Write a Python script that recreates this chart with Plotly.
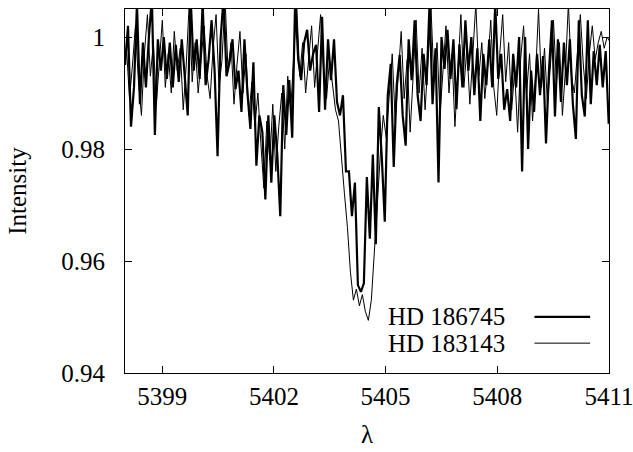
import numpy as np
import plotly.graph_objects as go

# Wavelength grid of the spectra (Angstrom)
LAMBDA_START = 5398.0
LAMBDA_STEP = 0.0802
THIN_OFFSET = 0.04

# HD 186745 normalised intensity
hd186745 = [
    0.995, 1.002, 0.984, 0.991, 1.006, 0.988, 0.999, 0.991, 1.000, 1.007,
    0.9825, 0.9996, 0.994, 1.000, 0.9925, 0.999, 0.991, 0.9986, 0.992, 0.9996,
    0.993, 0.986, 1.007, 0.994, 0.9996, 0.9925, 1.006, 0.9914, 0.996, 1.003,
    0.994, 0.9787, 0.9996, 1.007, 0.993, 0.9955, 0.9996, 0.9907, 0.994, 0.9866,
    0.9996, 0.990, 0.9836, 0.9955, 0.977, 0.986, 0.983, 0.971, 0.986, 0.974,
    0.986, 0.979, 0.968, 0.9914, 0.9825, 0.9923, 0.982, 1.007, 0.996, 0.9923,
    0.999, 1.0013, 0.994, 0.997, 0.9986, 0.9866, 1.0036, 0.987, 0.9996, 0.9923,
    0.9996, 0.9884, 0.986, 0.9896, 0.976, 0.976, 0.968, 0.974, 0.9557, 0.9545,
    0.956, 0.975, 0.964, 0.979, 0.963, 0.9875, 0.9785, 0.967, 0.9896, 0.9952,
    0.9768, 0.9915, 0.9968, 0.986, 0.9806, 0.9996, 0.9923, 1.003, 0.9896, 0.985,
    0.997, 0.9914, 1.006, 0.988, 0.998, 0.974, 1.000, 0.9943, 1.0013, 0.9925,
    0.9996, 0.9871, 0.9987, 0.991, 1.003, 0.994, 1.000, 0.9896, 0.998, 0.985,
    0.997, 0.9914, 0.9996, 0.991, 1.006, 0.9925, 0.997, 0.987, 0.9907, 0.985,
    0.997, 0.991, 1.000, 0.976, 1.000, 0.980, 0.994, 0.9866, 0.997, 0.9896,
    0.9966, 0.981, 0.994, 1.003, 0.9858, 0.9996, 0.9884, 0.999, 0.9914, 0.9996,
    0.988, 0.9818, 1.003, 0.9896, 0.9858, 1.003, 0.988, 0.9975, 0.9914, 0.9986,
    0.991, 0.9975, 0.9845,
]

# HD 183143 normalised intensity
hd183143 = [
    0.998, 0.989, 0.995, 1.002, 0.992, 0.986, 0.997, 1.004, 0.993, 0.999,
    0.988, 0.996, 1.003, 0.991, 0.997, 0.990, 1.001, 0.994, 0.998, 0.987,
    0.995, 1.006, 0.992, 0.999, 0.990, 0.996, 1.002, 0.993, 0.989, 0.998,
    1.004, 0.991, 0.996, 1.007, 0.994, 0.999, 0.988, 0.995, 1.001, 0.990,
    0.997, 0.986, 0.992, 0.984, 0.990, 0.981, 0.973, 0.985, 0.978, 0.988,
    0.976, 0.984, 0.990, 0.980, 0.993, 0.987, 0.998, 1.006, 0.993, 0.999,
    0.990, 0.996, 1.002, 0.991, 0.997, 1.004, 0.994, 0.989, 0.996, 0.991,
    0.987, 0.985, 0.978, 0.972, 0.966, 0.958, 0.953, 0.955, 0.952, 0.954,
    0.951, 0.9494, 0.953, 0.961, 0.970, 0.979, 0.986, 0.982, 0.990, 0.997,
    0.985, 0.993, 1.001, 0.989, 0.996, 0.983, 0.994, 1.003, 0.990, 0.998,
    0.987, 0.995, 1.005, 0.992, 0.999, 0.986, 0.994, 1.002, 0.990, 0.997,
    0.984, 0.993, 1.004, 0.991, 0.998, 0.988, 0.996, 1.006, 0.993, 0.999,
    0.989, 0.995, 1.003, 0.991, 0.986, 0.997, 1.004, 0.992, 0.999, 0.987,
    0.994, 0.983, 0.996, 1.002, 0.990, 0.997, 0.985, 0.993, 1.005, 0.991,
    0.998, 0.988, 0.995, 1.003, 0.992, 0.999, 0.986, 0.994, 1.006, 0.993,
    0.990, 0.998, 1.004, 0.995, 0.989, 0.997, 1.002, 0.996, 0.999, 1.001,
    0.998, 1.000, 0.999,
]

x_tick_vals = [5399, 5402, 5405, 5408, 5411]
y_tick_vals = [0.94, 0.96, 0.98, 1.0]
y_tick_text = ["0.94", "0.96", "0.98", "1"]
series_names = ["HD 186745", "HD 183143"]
series_widths = [2.2, 1.0]

lam_a = LAMBDA_START + LAMBDA_STEP * np.arange(len(hd186745))
lam_b = LAMBDA_START + THIN_OFFSET + LAMBDA_STEP * np.arange(len(hd183143))

FONT = "Liberation Serif, Times New Roman, serif"

fig = go.Figure()
for name, lam, vals, w in zip(series_names, [lam_a, lam_b], [hd186745, hd183143], series_widths):
    fig.add_trace(go.Scatter(x=lam, y=vals, mode="lines", name=name,
                             line=dict(color="black", width=w), showlegend=False))

# gnuplot-style key: right-justified label followed by a line sample
key_rows = [0.154, 0.082]
for name, yk, w in zip(series_names, key_rows, series_widths):
    fig.add_annotation(x=0.790, y=yk, xref="paper", yref="paper", text=name,
                       showarrow=False, xanchor="right", yanchor="middle",
                       font=dict(family=FONT, size=25, color="black"))
    fig.add_shape(type="line", xref="paper", yref="paper", x0=0.846, x1=0.961,
                  y0=yk, y1=yk, line=dict(color="black", width=w))

axis_common = dict(showline=True, linecolor="black", linewidth=1, mirror="ticks",
                   ticks="inside", ticklen=7, tickcolor="black", showgrid=False,
                   zeroline=False, automargin=False,
                   tickfont=dict(family=FONT, size=25, color="black"))

fig.update_xaxes(range=[5397.9995, 5411.0005], tickvals=x_tick_vals,
                 ticktext=[str(v) for v in x_tick_vals], ticklabelstandoff=1,
                 ticklabeloverflow="allow",
                 title=dict(text="λ", font=dict(family=FONT, size=25, color="black"),
                            standoff=16),
                 **axis_common)
fig.update_yaxes(range=[0.94, 1.005], tickvals=y_tick_vals, ticktext=y_tick_text,
                 ticklabelstandoff=14,
                 title=dict(text="Intensity", font=dict(family=FONT, size=25, color="black"),
                            standoff=27),
                 **axis_common)

fig.update_layout(width=633, height=452, margin=dict(l=125, r=24, t=9, b=79),
                  plot_bgcolor="white", paper_bgcolor="white",
                  font=dict(family=FONT, color="black"))

fig.write_html("out.html")
